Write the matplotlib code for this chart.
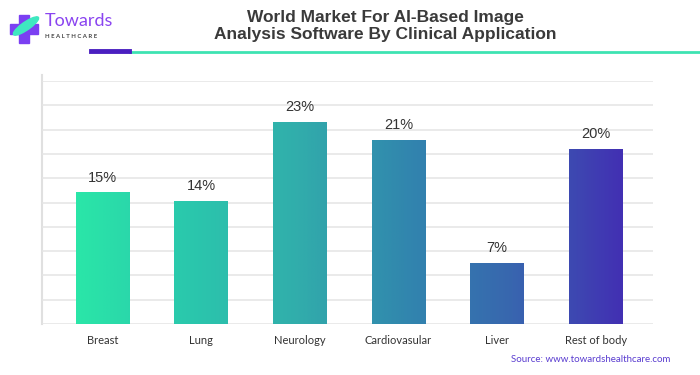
'''
World market for AI-based image analysis software, by clinical application
'''
import numpy as np
import matplotlib
matplotlib.use("Agg")
import matplotlib.pyplot as plt
from matplotlib.colors import LinearSegmentedColormap
from matplotlib.patches import Rectangle, Ellipse

# data
categories = ["Breast", "Lung", "Neurology", "Cardiovasular", "Liver", "Rest of body"]
shares = [15, 14, 23, 21, 7, 20]
labels = ["15%", "14%", "23%", "21%", "7%", "20%"]

title = "World Market For AI-Based Image\nAnalysis Software By Clinical Application"
source = "Source: www.towardshealthcare.com"

# gradient running left to right across all the bars
grad = LinearSegmentedColormap.from_list(
    "tw", ["#2ae6a8", "#2ac8ad", "#31aeab", "#3187ae", "#3866af", "#4230b3"])

fig = plt.figure(figsize=(7, 3.75), dpi=100)
ax = fig.add_axes([0.06, 0.136, 0.873, 0.648])

ymax = 27.7
x = np.arange(len(categories))
width = 0.54
bars = ax.bar(x, shares, width=width, color="none", zorder=3)

x0, x1 = x[0] - width / 2, x[-1] + width / 2
for b in bars:
    left = b.get_x()
    right = left + b.get_width()
    vals = np.linspace((left - x0) / (x1 - x0), (right - x0) / (x1 - x0), 64)
    im = ax.imshow(vals[np.newaxis, :], cmap=grad, vmin=0, vmax=1, aspect="auto",
                   extent=[left, right, 0, b.get_height()], zorder=3)
    im.set_clip_path(b)

for xi, v, lab in zip(x, shares, labels):
    ax.text(xi, v + 0.9, lab, ha="center", va="bottom", fontsize=10.5,
            color="#333333", family="Liberation Sans")

ax.set_xlim(-0.61, 5.58)
ax.set_ylim(0, ymax)
ax.set_yticks(np.linspace(0, ymax, 11))
ax.set_yticklabels([])
ax.tick_params(axis="y", length=0)
ax.tick_params(axis="x", length=0, pad=8)
ax.set_xticks(x)
ax.set_xticklabels(categories, fontsize=8, color="#333333", family="Lato")
ax.grid(axis="y", color="#e4e4e4", lw=1.1, zorder=0)
for s in ["top", "right", "bottom", "left"]:
    ax.spines[s].set_visible(False)
ax.plot([-0.61, -0.61], [0, ymax + 0.7], color="#e0e0e0", lw=1.5, clip_on=False, zorder=1)

# header
fig.text(0.55, 1 - 26 / 375, title, ha="center", va="center", fontsize=12.5, fontweight="bold",
         color="#3a3a3a", family="Liberation Sans", linespacing=1.15)
fig.add_artist(plt.Line2D([130 / 700, 1.0], [1 - 51.5 / 375] * 2, color="#3ee3b2", lw=2))
fig.add_artist(plt.Line2D([91 / 700, 129 / 700], [1 - 51 / 375] * 2, color="#4a1fc0", lw=3.5))

# logo
fig.add_artist(Rectangle((10 / 700, 1 - 34 / 375), 28 / 700, 10 / 375,
                         transform=fig.transFigure, color="#7b3ff2"))
fig.add_artist(Rectangle((19 / 700, 1 - 43 / 375), 10 / 700, 28 / 375,
                         transform=fig.transFigure, color="#7b3ff2"))
fig.add_artist(Ellipse((26 / 700, 1 - 26 / 375), 11 / 700, 22 / 375, angle=-35,
                       transform=fig.transFigure, color="#3ee8c0"))
fig.text(45 / 700, 1 - 21 / 375, "Towards", fontsize=13, color="#8a44f0",
         family="Lato", va="center", ha="left")
fig.text(45 / 700, 1 - 36 / 375, "H E A L T H C A R E", fontsize=4.3, color="#444444",
         family="Lato", fontweight="bold", va="center", ha="left")

fig.text(0.957, 1 - 359 / 375, source, ha="right", va="center", fontsize=7,
         color="#5a3dd0", family="Lato")

fig.savefig("out.png", dpi=100)
